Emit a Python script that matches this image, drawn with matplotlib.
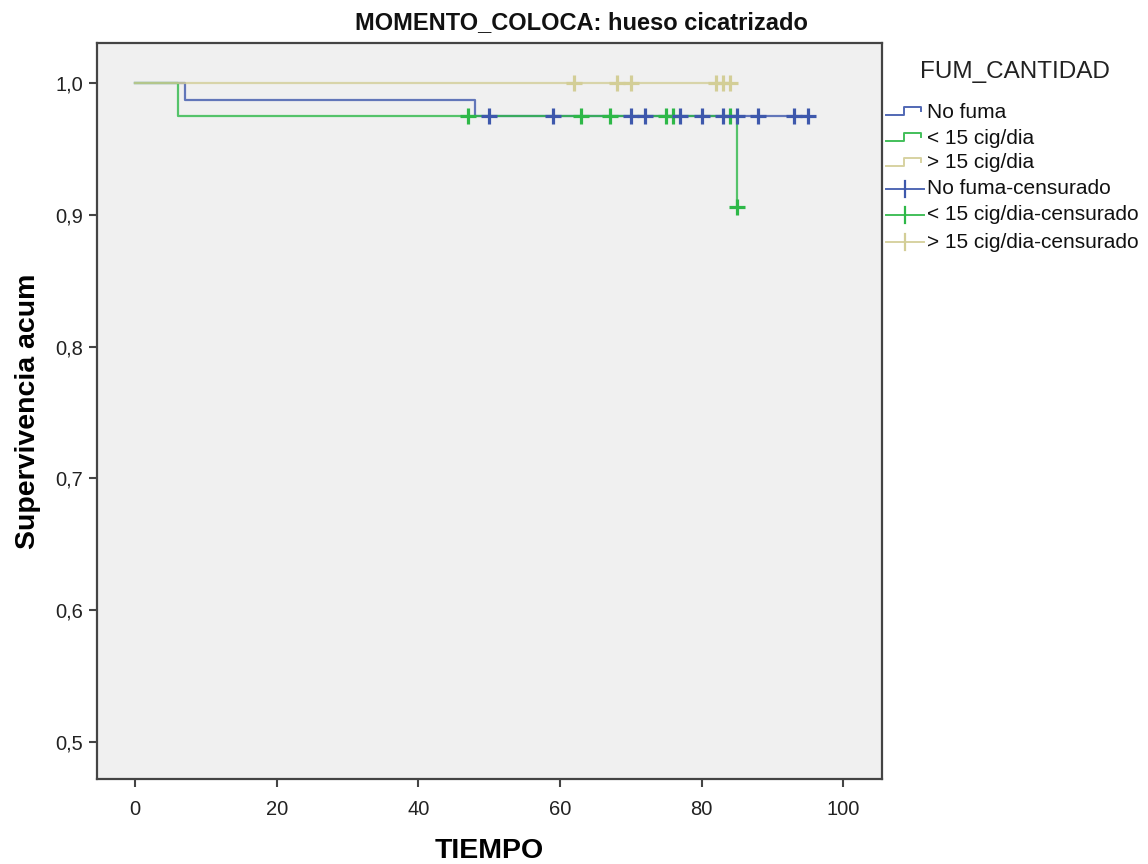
import matplotlib
matplotlib.use("Agg")
import matplotlib.pyplot as plt

plt.rcParams['font.family'] = ['Liberation Sans', 'DejaVu Sans']

# Kaplan-Meier step curves per smoking group
groups = ["No fuma", "< 15 cig/dia", "> 15 cig/dia"]
colors = ["#3E58AC", "#2EB848", "#D3CE97"]

no_fuma_t = [0, 7, 48, 95]
no_fuma_s = [1.0, 0.987, 0.975, 0.975]
no_fuma_cens_t = [50, 59, 70, 72, 77, 80, 83, 85, 88, 93, 95]
no_fuma_cens_s = [0.975] * len(no_fuma_cens_t)

menos15_t = [0, 6, 85]
menos15_s = [1.0, 0.975, 0.906]
menos15_cens_t = [47, 63, 67, 75, 76, 84, 85]
menos15_cens_s = [0.975, 0.975, 0.975, 0.975, 0.975, 0.975, 0.906]

mas15_t = [0, 84]
mas15_s = [1.0, 1.0]
mas15_cens_t = [62, 68, 70, 82, 83, 84]
mas15_cens_s = [1.0] * len(mas15_cens_t)

x_ticks = [0, 20, 40, 60, 80, 100]
y_ticks = [0.5, 0.6, 0.7, 0.8, 0.9, 1.0]
y_tick_labels = ["0,5", "0,6", "0,7", "0,8", "0,9", "1,0"]

W, H = 1148, 864
fig = plt.figure(figsize=(W / 100, H / 100), dpi=100)
ax = fig.add_axes([97 / W, 1 - 779 / H, (882 - 97) / W, (779 - 43) / H])
ax.set_facecolor("#F0F0F0")

curves = [
    (no_fuma_t, no_fuma_s, no_fuma_cens_t, no_fuma_cens_s),
    (menos15_t, menos15_s, menos15_cens_t, menos15_cens_s),
    (mas15_t, mas15_s, mas15_cens_t, mas15_cens_s),
]

# lines: yellow underneath, green on top
for idx in [2, 0, 1]:
    t, s, _, _ = curves[idx]
    ax.step(t, s, where="post", color=colors[idx], lw=1.6, alpha=0.8, zorder=2 + idx * 0.1)

for idx in [1, 0, 2]:
    _, _, ct, cs = curves[idx]
    ax.plot(ct, cs, linestyle="none", marker="+", ms=11, mew=2.3,
            color=colors[idx], zorder=3)

ax.set_xlim(-5.41, 105.5)
ax.set_ylim(0.4719, 1.0303)
ax.set_xticks(x_ticks)
ax.set_xticklabels([str(v) for v in x_ticks])
ax.set_yticks(y_ticks)
ax.set_yticklabels(y_tick_labels)
ax.tick_params(direction="out", length=6, width=1.5, color="#444444",
               labelsize=14.5, labelcolor="#222222", pad=4)
ax.tick_params(axis="x", pad=9)
for sp in ax.spines.values():
    sp.set_color("#444444")
    sp.set_linewidth(1.6)

fig.text(581 / W, 1 - 23 / H, "MOMENTO_COLOCA: hueso cicatrizado", fontsize=17,
         fontweight="bold", ha="center", va="center", color="#111111")
ax.set_xlabel("TIEMPO", fontsize=20.5, fontweight="bold", labelpad=14)
ax.set_ylabel("Supervivencia acum", fontsize=20.5, fontweight="bold", labelpad=10)

# legend panel drawn in pixel coordinates
lax = fig.add_axes([0, 0, 1, 1])
lax.set_xlim(0, W)
lax.set_ylim(H, 0)
lax.axis("off")
lax.patch.set_alpha(0)

lax.text(1015, 72, "FUM_CANTIDAD", fontsize=17.5, ha="center", va="center", color="#222222")
rows = [112, 138, 163, 189, 215, 242]
labels = groups + [g + "-censurado" for g in groups]
for i, (y, lab) in enumerate(zip(rows, labels)):
    c = colors[i % 3]
    if i < 3:
        lax.plot([886, 904, 904, 921, 921], [y + 3, y + 3, y - 5, y - 5, y - 1],
                 color=c, lw=1.4, alpha=0.9)
    else:
        lax.plot([886, 924], [y, y], color=c, lw=1.4, alpha=0.9)
        lax.plot([905, 905], [y - 8, y + 8], color=c, lw=1.6)
    lax.text(927, y, lab, fontsize=15, ha="left", va="center", color="#111111")

fig.savefig("out.png", dpi=100, facecolor="white")
